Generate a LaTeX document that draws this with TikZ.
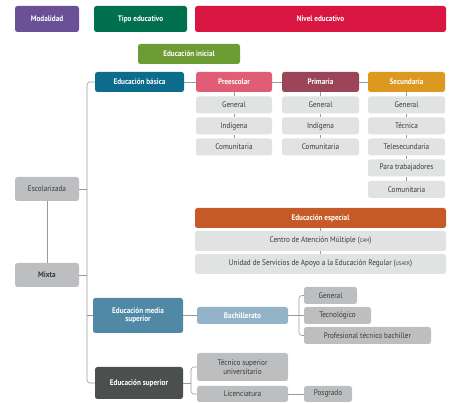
\documentclass[tikz,border=0pt]{standalone}
\usepackage{fontspec}
\setmainfont{PT Sans}[FakeStretch=0.9]

\definecolor{modcol}{HTML}{6A5096}
\definecolor{tipocol}{HTML}{00704F}
\definecolor{nivelcol}{HTML}{D91541}
\definecolor{inicialcol}{HTML}{6E9C34}
\definecolor{basicacol}{HTML}{0D6B8C}
\definecolor{preescol}{HTML}{E05D75}
\definecolor{primcol}{HTML}{9A4658}
\definecolor{secucol}{HTML}{DC981F}
\definecolor{especialcol}{HTML}{C55A28}
\definecolor{mediacol}{HTML}{5089A6}
\definecolor{bachcol}{HTML}{93B3C9}
\definecolor{supcol}{HTML}{4B504F}
\definecolor{litegray}{HTML}{E1E2E2}
\definecolor{midgray}{HTML}{BCBEC0}
\definecolor{linegray}{HTML}{9A9A9A}
\definecolor{textgray}{HTML}{3A3A3A}

\begin{document}
\begin{tikzpicture}[x=1pt, y=-1pt,
        box/.style={rounded corners=2.5pt, inner sep=0pt, align=center, font=\fontsize{8}{8.5}\selectfont},
        hdr/.style={box, text=white, font=\fontsize{8}{8.5}\selectfont\bfseries},
        lite/.style={box, fill=litegray, text=textgray},
        mid/.style={box, fill=midgray, text=textgray},
        link/.style={draw=linegray, line width=0.6pt},
        tick/.style={draw=linegray, line width=0.4pt}]
        \useasboundingbox (0,0) rectangle (453,403);

        \node[hdr, fill=modcol, minimum width=64pt, minimum height=26pt] (modalidad) at (47,19) {Modalidad};
        \node[hdr, fill=tipocol, minimum width=93pt, minimum height=26pt] (tipo) at (140.5,19) {Tipo educativo};
        \node[hdr, fill=nivelcol, minimum width=251pt, minimum height=26pt] (nivel) at (320.5,19) {Nivel educativo};
        \node[hdr, fill=inicialcol, minimum width=102pt, minimum height=20pt] (inicial) at (189,54) {Educación inicial};

        \node[hdr, fill=basicacol, minimum width=89pt, minimum height=20pt] (basica) at (139.5,82) {Educación básica};
        \node[hdr, fill=preescol, minimum width=76pt, minimum height=20pt] (preescolar) at (234,82) {Preescolar};
        \node[hdr, fill=primcol, minimum width=77pt, minimum height=20pt] (primaria) at (320.5,82) {Primaria};
        \node[hdr, fill=secucol, minimum width=77pt, minimum height=20pt] (secundaria) at (406.5,82) {Secundaria};

        \node[lite, minimum width=76pt, minimum height=17pt] (pre1) at (234,105) {General};
        \node[lite, minimum width=76pt, minimum height=17pt] (pre2) at (234,126) {Indígena};
        \node[lite, minimum width=76pt, minimum height=17pt] (pre3) at (234,147) {Comunitaria};
        \node[lite, minimum width=77pt, minimum height=17pt] (pri1) at (320.5,105) {General};
        \node[lite, minimum width=77pt, minimum height=17pt] (pri2) at (320.5,126) {Indígena};
        \node[lite, minimum width=77pt, minimum height=17pt] (pri3) at (320.5,147) {Comunitaria};
        \node[lite, minimum width=77pt, minimum height=17pt] (sec1) at (406.5,105) {General};
        \node[lite, minimum width=77pt, minimum height=17pt] (sec2) at (406.5,126) {Técnica};
        \node[lite, minimum width=77pt, minimum height=17pt] (sec3) at (406.5,147) {Telesecundaria};
        \node[lite, minimum width=77pt, minimum height=17pt] (sec4) at (406.5,168) {Para trabajadores};
        \node[lite, minimum width=77pt, minimum height=17pt] (sec5) at (406.5,189.5) {Comunitaria};

        \node[hdr, fill=especialcol, minimum width=251pt, minimum height=20pt] (especial) at (320.5,218) {Educación especial};
        \node[lite, minimum width=251pt, minimum height=20pt] (cam) at (320.5,241) {Centro de Atención Múltiple ({\fontsize{5.5}{6}\selectfont CAM})};
        \node[lite, minimum width=251pt, minimum height=20pt] (usaer) at (320.5,264) {Unidad de Servicios de Apoyo a la Educación Regular ({\fontsize{5.5}{6}\selectfont USAER})};

        \node[mid, minimum width=64pt, minimum height=24pt] (escolarizada) at (47,189) {Escolarizada};
        \node[mid, minimum width=64pt, minimum height=24pt] (mixta) at (47,275) {\bfseries Mixta};

        \node[hdr, fill=mediacol, minimum width=90pt, minimum height=35pt] (media) at (138,315.5) {Educación media\\superior};
        \node[hdr, fill=bachcol, minimum width=91pt, minimum height=17pt] (bachillerato) at (242.5,315.5) {Bachillerato};
        \node[mid, minimum width=53pt, minimum height=17pt] (bgeneral) at (330.5,295.5) {General};
        \node[mid, minimum width=67pt, minimum height=17pt] (tecnologico) at (337.5,315.5) {Tecnológico};
        \node[mid, minimum width=127pt, minimum height=17pt] (profesional) at (367.5,335.5) {Profesional técnico bachiller};

        \node[hdr, fill=supcol, minimum width=88pt, minimum height=32pt] (superior) at (139,383) {Educación superior};
        \node[mid, minimum width=91pt, minimum height=28pt] (tsu) at (242.5,367) {Técnico superior\\universitario};
        \node[mid, minimum width=91pt, minimum height=16pt] (licenciatura) at (242.5,394) {Licenciatura};
        \node[mid, minimum width=48pt, minimum height=16pt] (posgrado) at (328,394) {Posgrado};

        \coordinate (trunk) at (87,0);
        \coordinate (bach) at (299,0);
        \coordinate (sup) at (191,0);

        \draw[link, rounded corners=3pt] (basica.west) -- (basica.west -| trunk) -- (superior.west -| trunk) -- (superior.west);
        \draw[link] (escolarizada.east) -- (escolarizada.east -| trunk);
        \draw[link] (mixta.east) -- (mixta.east -| trunk);
        \draw[link] (media.west) -- (media.west -| trunk);
        \draw[link] (escolarizada) -- (mixta);

        \draw[link] (basica) -- (preescolar);
        \draw[link] (preescolar) -- (primaria);
        \draw[link] (primaria) -- (secundaria);
        \draw[tick] (preescolar) -- (pre1) (pre1) -- (pre2) (pre2) -- (pre3);
        \draw[tick] (primaria) -- (pri1) (pri1) -- (pri2) (pri2) -- (pri3);
        \draw[tick] (secundaria) -- (sec1) (sec1) -- (sec2) (sec2) -- (sec3) (sec3) -- (sec4) (sec4) -- (sec5);
        \draw[tick] (especial) -- (cam) (cam) -- (usaer);

        \draw[link] (media) -- (bachillerato);
        \draw[link] (bachillerato) -- (tecnologico);
        \draw[link, rounded corners=3pt] (bgeneral.west) -- (bgeneral.west -| bach) -- (profesional.west -| bach) -- (profesional.west);

        \draw[link] (superior.east) -- (superior.east -| sup);
        \draw[link, rounded corners=3pt] (tsu.west) -- (tsu.west -| sup) -- (licenciatura.west -| sup) -- (licenciatura.west);
        \draw[link] (licenciatura) -- (posgrado);
    \end{tikzpicture}
\end{document}
